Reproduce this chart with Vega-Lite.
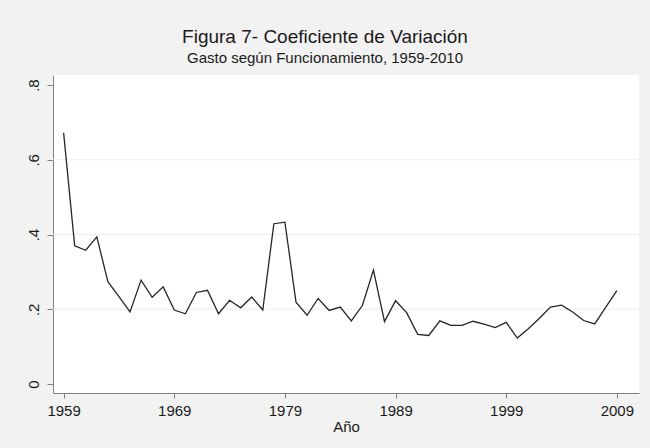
{
  "$schema": "https://vega.github.io/schema/vega-lite/v6.json",
  "width": 586,
  "height": 318,
  "autosize": {"type": "none"},
  "padding": {"left": 53, "top": 75, "right": 11, "bottom": 55},
  "background": "#f2f2f2",
  "config": {
    "view": {"fill": "white", "stroke": null},
    "font": "Liberation Sans"
  },
  "title": {
    "text": "Figura 7- Coeficiente de Variación",
    "subtitle": "Gasto según Funcionamiento, 1959-2010",
    "fontSize": 19,
    "fontWeight": "normal",
    "subtitleFontSize": 15,
    "color": "#1a1a1a",
    "subtitleColor": "#1a1a1a",
    "anchor": "middle",
    "dx": -21,
    "offset": 9,
    "subtitlePadding": 4
  },
  "encoding": {
    "y": {
      "field": "v",
      "type": "quantitative",
      "scale": {"domain": [-0.024, 0.827], "nice": false, "zero": false},
      "axis": {
        "values": [0, 0.2, 0.4, 0.6, 0.8],
        "labelExpr": "datum.value == 0 ? '0' : replace(format(datum.value, '.1f'), '0.', '.')",
        "labelAngle": -90,
        "labelFontSize": 15,
        "labelColor": "#1a1a1a",
        "labelPadding": 6,
        "tickSize": 6,
        "tickColor": "#808080",
        "domainColor": "#808080",
        "grid": false,
        "title": null
      }
    }
  },
  "layer": [
    {
      "data": {"values": [{"v": 0.2}, {"v": 0.4}, {"v": 0.6}]},
      "mark": {"type": "rule", "color": "#eeeeee", "strokeWidth": 1}
    },
    {
      "data": {
        "values": [
          {"year": 1959, "v": 0.672},
          {"year": 1960, "v": 0.370},
          {"year": 1961, "v": 0.358},
          {"year": 1962, "v": 0.394},
          {"year": 1963, "v": 0.274},
          {"year": 1964, "v": 0.234},
          {"year": 1965, "v": 0.193},
          {"year": 1966, "v": 0.278},
          {"year": 1967, "v": 0.232},
          {"year": 1968, "v": 0.260},
          {"year": 1969, "v": 0.198},
          {"year": 1970, "v": 0.188},
          {"year": 1971, "v": 0.245},
          {"year": 1972, "v": 0.251},
          {"year": 1973, "v": 0.188},
          {"year": 1974, "v": 0.224},
          {"year": 1975, "v": 0.204},
          {"year": 1976, "v": 0.233},
          {"year": 1977, "v": 0.198},
          {"year": 1978, "v": 0.429},
          {"year": 1979, "v": 0.433},
          {"year": 1980, "v": 0.219},
          {"year": 1981, "v": 0.184},
          {"year": 1982, "v": 0.229},
          {"year": 1983, "v": 0.197},
          {"year": 1984, "v": 0.206},
          {"year": 1985, "v": 0.169},
          {"year": 1986, "v": 0.210},
          {"year": 1987, "v": 0.305},
          {"year": 1988, "v": 0.167},
          {"year": 1989, "v": 0.223},
          {"year": 1990, "v": 0.191},
          {"year": 1991, "v": 0.133},
          {"year": 1992, "v": 0.130},
          {"year": 1993, "v": 0.169},
          {"year": 1994, "v": 0.157},
          {"year": 1995, "v": 0.157},
          {"year": 1996, "v": 0.168},
          {"year": 1997, "v": 0.160},
          {"year": 1998, "v": 0.151},
          {"year": 1999, "v": 0.165},
          {"year": 2000, "v": 0.123},
          {"year": 2001, "v": 0.148},
          {"year": 2002, "v": 0.176},
          {"year": 2003, "v": 0.206},
          {"year": 2004, "v": 0.211},
          {"year": 2005, "v": 0.193},
          {"year": 2006, "v": 0.170},
          {"year": 2007, "v": 0.161},
          {"year": 2008, "v": 0.206},
          {"year": 2009, "v": 0.250}
        ]
      },
      "mark": {"type": "line", "stroke": "#262626", "strokeWidth": 1.3},
      "encoding": {
        "x": {
          "field": "year",
          "type": "quantitative",
          "scale": {"domain": [1958.04, 2011.0], "nice": false, "zero": false},
          "axis": {
            "values": [1959, 1969, 1979, 1989, 1999, 2009],
            "format": "d",
            "labelFontSize": 15,
            "labelColor": "#1a1a1a",
            "labelPadding": 5,
            "tickSize": 5,
            "tickColor": "#808080",
            "domainColor": "#808080",
            "grid": false,
            "title": "Año",
            "titleFontSize": 15,
            "titleFontWeight": "normal",
            "titleColor": "#1a1a1a",
            "titlePadding": 1
          }
        }
      }
    }
  ]
}
